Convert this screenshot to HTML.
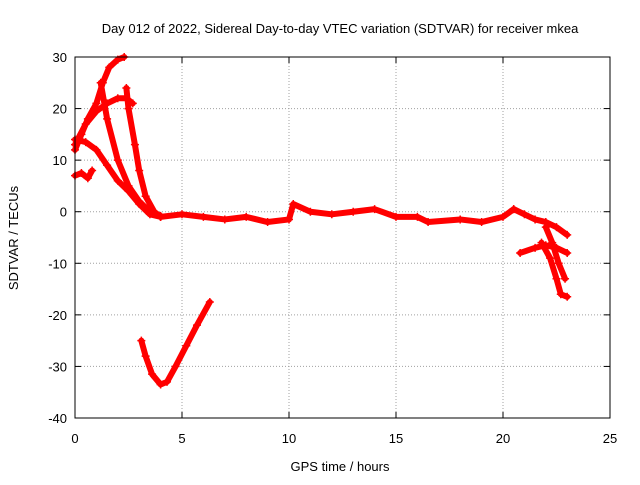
<!DOCTYPE html>
<html><head><meta charset="utf-8"><style>
body{margin:0;background:#fff;}
svg text{font-family:"Liberation Sans",sans-serif;font-size:13px;fill:#000;}
</style></head><body>
<svg id="chart" width="640" height="480">
<text x="340" y="33" text-anchor="middle">Day 012 of 2022, Sidereal Day-to-day VTEC variation (SDTVAR) for receiver mkea</text>
<text x="340" y="471" text-anchor="middle">GPS time / hours</text>
<text transform="translate(18,238) rotate(-90)" text-anchor="middle">SDTVAR / TECUs</text>
<g id="grid"></g><g id="series"></g><g id="axes"></g>
</svg>
<script>
const xTicks=[0,5,10,15,20,25];
const yTicks=[30,20,10,0,-10,-20,-30,-40];
const seriesRise=[[0,12],[0.3,15],[0.6,18],[1,21],[1.3,25],[1.6,28],[2,29.5],[2.3,30]];
const seriesHump=[[0,13],[0.5,17],[1,19.5],[1.5,21],[2,22],[2.4,22],[2.7,21]];
const seriesFallA=[[1.2,25],[1.5,18],[2,10],[2.5,5],[3,2],[3.5,0],[4,-0.8]];
const seriesFallB=[[2.4,24],[2.5,20],[2.8,13],[3,8],[3.3,3],[3.7,0],[4,-1]];
const seriesFallC=[[0,14],[0.5,13.5],[1,12],[1.5,9],[2,6],[2.5,4],[3,1.5],[3.5,-0.5],[4,-1]];
const seriesStart=[[0,7],[0.3,7.5],[0.6,6.5],[0.8,8]];
const seriesFlat=[[4,-1],[5,-0.5],[6,-1],[7,-1.5],[8,-1],[9,-2],[10,-1.5],[10.2,1.5],[11,0],[12,-0.5],[13,0],[14,0.5],[15,-1],[16,-1],[16.5,-2],[18,-1.5],[19,-2],[20,-1],[20.5,0.5]];
const seriesEndA=[[20.5,0.5],[21,-0.5],[21.5,-1.5],[22,-2],[22.5,-3],[23,-4.5]];
const seriesEndB=[[20.8,-8],[21.5,-7],[22,-6.5],[22.5,-7],[23,-8]];
const seriesEndC=[[22,-3],[22.3,-6],[22.6,-10],[22.9,-13]];
const seriesEndD=[[21.8,-6],[22.2,-9],[22.5,-13],[22.7,-16],[23,-16.5]];
const seriesV=[[3.1,-25],[3.3,-28],[3.6,-31.5],[4,-33.5],[4.3,-33],[4.7,-30],[5.2,-26],[5.7,-22],[6.3,-17.5]];
const allSeries=[seriesRise,seriesHump,seriesFallA,seriesFallB,seriesFallC,seriesStart,seriesFlat,seriesEndA,seriesEndB,seriesEndC,seriesEndD,seriesV];
const X0=75,X1=610,Y0=57,Y1=418;
const sx=v=>X0+(v-0)/25*(X1-X0);
const sy=v=>Y0+(30-v)/70*(Y1-Y0);
const NS='http://www.w3.org/2000/svg';
function mk(t,a,p){const e=document.createElementNS(NS,t);for(const k in a)e.setAttribute(k,a[k]);p.appendChild(e);return e;}
const grid=document.getElementById('grid'),axes=document.getElementById('axes'),ser=document.getElementById('series');
xTicks.forEach(v=>{
 if(v>0&&v<25){const g=mk('line',{x1:sx(v),x2:sx(v),y1:Y0,y2:Y1,stroke:'#a0a0a0','stroke-dasharray':'1,2'},grid);
 
 }
 const t=mk('text',{x:sx(v),y:Y1+25,'text-anchor':'middle'},axes);t.textContent=v;
 
 
 mk('line',{x1:sx(v),x2:sx(v),y1:Y1,y2:Y1-6,stroke:'#000'},axes);
 mk('line',{x1:sx(v),x2:sx(v),y1:Y0,y2:Y0+6,stroke:'#000'},axes);
});
yTicks.forEach(v=>{
 if(v<30&&v>-40){const g=mk('line',{x1:X0,x2:X1,y1:sy(v),y2:sy(v),stroke:'#a0a0a0','stroke-dasharray':'1,2'},grid);
 
 }
 const t=mk('text',{x:X0-8,y:sy(v)+5,'text-anchor':'end'},axes);t.textContent=v;
 
 
 mk('line',{x1:X0,x2:X0+6,y1:sy(v),y2:sy(v),stroke:'#000'},axes);
 mk('line',{x1:X1,x2:X1-6,y1:sy(v),y2:sy(v),stroke:'#000'},axes);
});
const frame=mk('rect',{x:X0,y:Y0,width:X1-X0,height:Y1-Y0,fill:'none',stroke:'#000'},axes);


allSeries.forEach(s=>{
 const pl=mk('polyline',{points:s.map(p=>sx(p[0])+','+sy(p[1])).join(' '),fill:'none',stroke:'#f00','stroke-width':6,'stroke-linejoin':'round','stroke-linecap':'round'},ser);
 
 
 s.forEach(p=>{const x=sx(p[0]),y=sy(p[1]);
  const m=mk('path',{d:`M${x-4},${y}h8M${x},${y-4}v8`,stroke:'#f00','stroke-width':1.5},ser);
  
  });
});
</script>
</body></html>
